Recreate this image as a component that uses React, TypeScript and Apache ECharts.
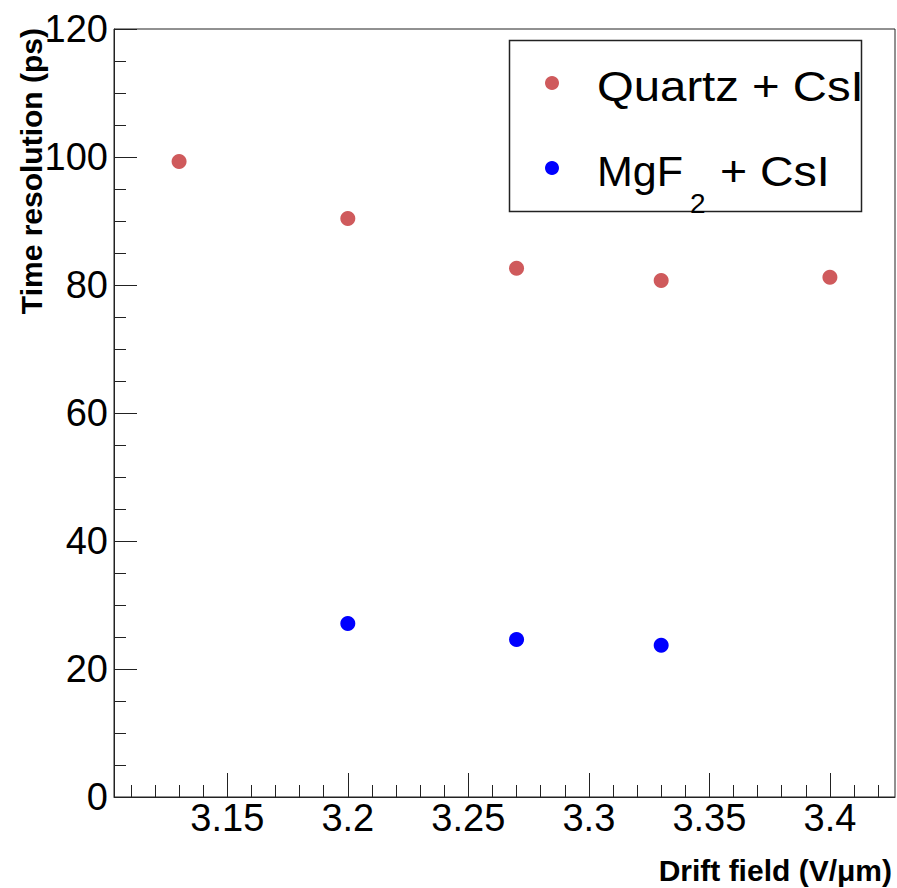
import React, { useEffect, useRef } from "react";
import * as echarts from "echarts";

// ---- data ----
const quartzField = [3.13, 3.2, 3.27, 3.33, 3.4];
const quartzRes = [99.3, 90.4, 82.6, 80.7, 81.2];
const mgf2Field = [3.2, 3.27, 3.33];
const mgf2Res = [27.1, 24.6, 23.7];

const xMajorTicks = [3.15, 3.2, 3.25, 3.3, 3.35, 3.4];
const xMinorTicks = [
  3.11, 3.12, 3.13, 3.14, 3.16, 3.17, 3.18, 3.19, 3.21, 3.22, 3.23, 3.24,
  3.26, 3.27, 3.28, 3.29, 3.31, 3.32, 3.33, 3.34, 3.36, 3.37, 3.38, 3.39,
  3.41, 3.42,
];
const xMin = 3.103;
const xMax = 3.427;
const yMin = 0;
const yMax = 120;
const yStep = 20;

const xTitle = "Drift field (V/\u03bcm)";
const yTitle = "Time resolution (ps)";
const legendNames = ["Quartz + CsI", "MgF2 + CsI"];

const RED = "#cf5a5c";
const BLUE = "#0000ff";
const AXIS = "#222";
const FONT = "'Liberation Sans', Arial, Helvetica, sans-serif";

export default function App() {
  const ref = useRef<HTMLDivElement>(null);

  useEffect(() => {
    if (!ref.current) return;
    const chart = echarts.init(ref.current, null, { renderer: "svg" });
    const zip = (xs: number[], ys: number[]) => xs.map((x, i) => [x, ys[i]]);

    chart.setOption({
      animation: false,
      backgroundColor: "#fff",
      grid: {
        left: 114,
        right: 2,
        top: 29,
        bottom: 91,
        show: true,
        borderColor: AXIS,
        borderWidth: 1,
        backgroundColor: "transparent",
      },
      xAxis: [
        {
          type: "value",
          position: "bottom",
          min: xMin,
          max: xMax,
          axisLine: { onZero: false, lineStyle: { color: AXIS, width: 1 } },
          axisTick: {
            inside: true,
            length: 24,
            customValues: xMajorTicks,
            lineStyle: { color: AXIS, width: 1 },
          },
          axisLabel: {
            customValues: xMajorTicks,
            fontFamily: FONT,
            fontSize: 38,
            color: "#000",
            margin: 2,
            formatter: (v: number) => String(Number(v.toFixed(2))),
          },
          splitLine: { show: false },
        },
        {
          type: "value",
          position: "bottom",
          min: xMin,
          max: xMax,
          axisLine: { show: false, onZero: false },
          axisTick: {
            inside: true,
            length: 12,
            customValues: xMinorTicks,
            lineStyle: { color: AXIS, width: 1 },
          },
          axisLabel: { show: false },
          splitLine: { show: false },
        },
      ],
      yAxis: {
        type: "value",
        min: yMin,
        max: yMax,
        interval: yStep,
        axisLine: { show: true, onZero: false, lineStyle: { color: AXIS, width: 1 } },
        axisTick: { inside: true, length: 23, lineStyle: { color: AXIS, width: 1 } },
        minorTick: { show: true, splitNumber: 4, length: 12, lineStyle: { color: AXIS, width: 1 } },
        axisLabel: { fontFamily: FONT, fontSize: 38, color: "#000", margin: 6 },
        splitLine: { show: false },
      },
      series: [
        {
          name: legendNames[0],
          type: "scatter",
          xAxisIndex: 0,
          symbol: "circle",
          symbolSize: 15,
          itemStyle: { color: RED, opacity: 1 },
          data: zip(quartzField, quartzRes),
        },
        {
          name: legendNames[1],
          type: "scatter",
          xAxisIndex: 0,
          symbol: "circle",
          symbolSize: 15,
          itemStyle: { color: BLUE, opacity: 1 },
          data: zip(mgf2Field, mgf2Res),
        },
      ],
      graphic: [
        {
          type: "text",
          x: 892,
          y: 870,
          style: {
            text: xTitle,
            fontFamily: FONT,
            fontWeight: "bold",
            fontSize: 30,
            fill: "#000",
            align: "right",
            verticalAlign: "middle",
          },
        },
        {
          type: "text",
          x: 31,
          y: 28,
          rotation: Math.PI / 2,
          style: {
            text: yTitle,
            fontFamily: FONT,
            fontWeight: "bold",
            fontSize: 30,
            fill: "#000",
            align: "right",
            verticalAlign: "middle",
          },
        },
        {
          type: "rect",
          shape: { x: 509.5, y: 40.5, width: 352, height: 171 },
          style: { fill: "none", stroke: AXIS, lineWidth: 1.5 },
        },
        {
          type: "circle",
          shape: { cx: 552, cy: 83, r: 7 },
          style: { fill: RED },
        },
        {
          type: "circle",
          shape: { cx: 552, cy: 168, r: 7 },
          style: { fill: BLUE },
        },
        {
          type: "text",
          x: 597,
          y: 86,
          scaleX: 1.1,
          style: {
            text: legendNames[0],
            fontFamily: FONT,
            fontSize: 43,
            fill: "#000",
            align: "left",
            verticalAlign: "middle",
          },
        },
        {
          type: "text",
          x: 597,
          y: 171,
          style: {
            text: "MgF",
            fontFamily: FONT,
            fontSize: 43,
            fill: "#000",
            align: "left",
            verticalAlign: "middle",
          },
        },
        {
          type: "text",
          x: 690,
          y: 203,
          style: {
            text: "2",
            fontFamily: FONT,
            fontSize: 28,
            fill: "#000",
            align: "left",
            verticalAlign: "middle",
          },
        },
        {
          type: "text",
          x: 720,
          y: 171,
          scaleX: 1.08,
          style: {
            text: "+ CsI",
            fontFamily: FONT,
            fontSize: 43,
            fill: "#000",
            align: "left",
            verticalAlign: "middle",
          },
        },
      ],
    });

    return () => chart.dispose();
  }, []);

  return (
    <div
      ref={ref}
      style={{ position: "fixed", left: 0, top: 0, width: 897, height: 888, background: "#fff" }}
    />
  );
}
